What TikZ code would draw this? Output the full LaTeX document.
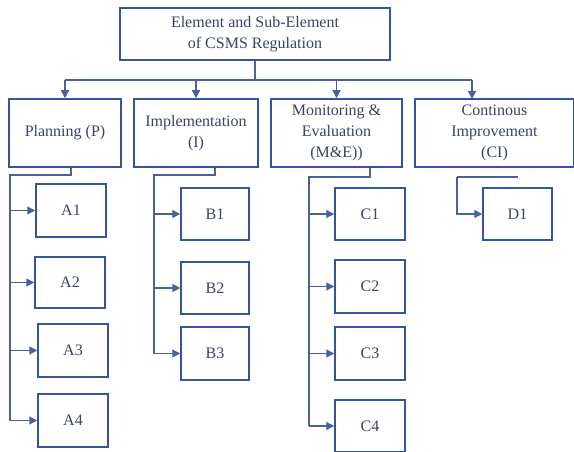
\documentclass[tikz,border=0pt]{standalone}
\usepackage{fontspec}
\setmainfont{Liberation Serif}
\usepackage{xcolor}
\usetikzlibrary{arrows.meta,positioning,calc}

\definecolor{boxblue}{RGB}{52,86,158}
\definecolor{lineblue}{RGB}{74,98,152}
\definecolor{textgray}{RGB}{58,68,98}

\begin{document}
\begin{tikzpicture}[
    x=1pt, y=-1pt,
    box/.style={draw=boxblue, line width=1.5pt, fill=white, text=textgray, align=center,
        font=\fontsize{16}{21}\selectfont, inner sep=2pt},
    headbox/.style={box, minimum width=270pt, minimum height=52pt},
    elembox/.style={box, minimum height=68pt},
    subbox/.style={box, minimum width=70pt, minimum height=53pt},
    link/.style={draw=lineblue, line width=1.3pt},
    arr/.style={link, -{Triangle[length=8pt,width=8pt]}}
]
\useasboundingbox (0,0) rectangle (574,452);

\node[headbox] (top) at (255,34) {Element and Sub-Element\\of CSMS Regulation};

\node[elembox, minimum width=112pt] (P) at (65,133) {Planning (P)};
\node[elembox, minimum width=124pt] (I) at (196,133) {Implementation\\(I)};
\node[elembox, minimum width=131pt] (ME) at (336.5,133) {Monitoring \&\\Evaluation\\(M\&E))};
\node[elembox, minimum width=159pt] (CI) at (494.5,133) {Continous\\Improvement\\(CI)};

\node[subbox] (A1) at (71,210.5) {A1};
\node[subbox, minimum height=51pt] (A2) at (70,282.5) {A2};
\node[subbox] (A3) at (73,350.5) {A3};
\node[subbox] (A4) at (73,420.5) {A4};

\node[subbox, minimum width=68pt, minimum height=52pt] (B1) at (215,214) {B1};
\node[subbox, minimum width=68pt, minimum height=52pt] (B2) at (215,288) {B2};
\node[subbox, minimum width=68pt] (B3) at (215,353.5) {B3};

\node[subbox, minimum height=52pt] (C1) at (370,214) {C1};
\node[subbox] (C2) at (370,286.5) {C2};
\node[subbox] (C3) at (370,353.5) {C3};
\node[subbox, minimum height=52pt] (C4) at (370,426) {C4};

\node[subbox, minimum width=69pt, minimum height=52pt] (D1) at (517.5,214) {D1};

% top level bus
\coordinate (bus) at (0,80);
\coordinate (cidrop) at (472,99);
\draw[link] (top.south) -- (top.south |- bus);
\draw[link] (P.north |- bus) -- (cidrop |- bus);
\foreach \n in {P,I,ME}
    \draw[arr] (\n.north |- bus) -- (\n.north);
\draw[arr] (cidrop |- bus) -- (cidrop);

% sub-element spines
\coordinate (pA) at (10,175);
\coordinate (pB) at (154,175);
\coordinate (pC) at (309,177);
\coordinate (pD) at (457,177);
\draw[link] (P.south -| A1) |- (pA) -- (pA |- A4);
\draw[link] (I.south -| B1) |- (pB) -- (pB |- B3);
\draw[link] (ME.south -| C1) |- (pC) -- (pC |- C4);
\draw[link] (pD -| D1) -- (pD);

\foreach \n in {A1,A2,A3,A4}
    \draw[arr] (pA |- \n) -- (\n.west);
\foreach \n in {B1,B2,B3}
    \draw[arr] (pB |- \n) -- (\n.west);
\foreach \n in {C1,C2,C3,C4}
    \draw[arr] (pC |- \n) -- (\n.west);
\draw[arr] (pD) |- (D1.west);

\end{tikzpicture}
\end{document}
